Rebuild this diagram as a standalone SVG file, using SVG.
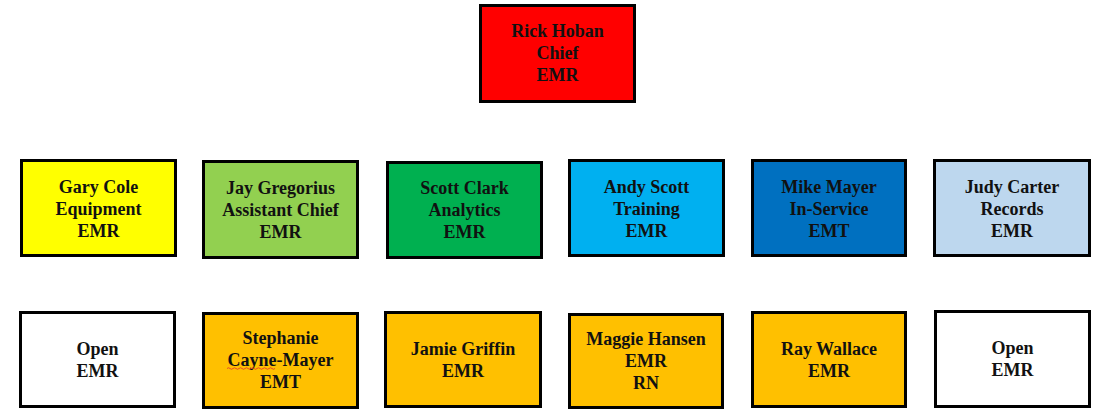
<svg xmlns="http://www.w3.org/2000/svg" width="1096" height="409" viewBox="0 0 1096 409">
<style>
.box{stroke:#000;stroke-width:3}
.t{font-family:"Liberation Serif","Times New Roman",serif;font-weight:bold;font-size:18px;fill:#111;text-anchor:middle}
</style>
<rect width="1096" height="409" fill="#fff"/>
<g id="connectors"></g>
<g id="rick"><rect class="box" x="480.5" y="5.5" width="154" height="96" fill="#FF0000"/><text class="t" x="557.5" y="37">Rick Hoban</text><text class="t" x="557.5" y="59">Chief</text><text class="t" x="557.5" y="81">EMR</text></g>
<g id="gary"><rect class="box" x="21.5" y="160.5" width="154" height="95" fill="#FFFF00"/><text class="t" x="98.5" y="193">Gary Cole</text><text class="t" x="98.5" y="215">Equipment</text><text class="t" x="98.5" y="237">EMR</text></g>
<g id="jay"><rect class="box" x="203.5" y="161.5" width="154" height="96" fill="#92D050"/><text class="t" x="280.5" y="194">Jay Gregorius</text><text class="t" x="280.5" y="216">Assistant Chief</text><text class="t" x="280.5" y="238">EMR</text></g>
<g id="scott"><rect class="box" x="387.5" y="162.5" width="154" height="95" fill="#00B050"/><text class="t" x="464.5" y="194">Scott Clark</text><text class="t" x="464.5" y="216">Analytics</text><text class="t" x="464.5" y="238">EMR</text></g>
<g id="andy"><rect class="box" x="569.5" y="160.5" width="154" height="95" fill="#00B0F0"/><text class="t" x="646.5" y="193">Andy Scott</text><text class="t" x="646.5" y="215">Training</text><text class="t" x="646.5" y="237">EMR</text></g>
<g id="mike"><rect class="box" x="752.5" y="160.5" width="153" height="95" fill="#0070C0"/><text class="t" x="829" y="193">Mike Mayer</text><text class="t" x="829" y="215">In-Service</text><text class="t" x="829" y="237">EMT</text></g>
<g id="judy"><rect class="box" x="934.5" y="160.5" width="155" height="95" fill="#BDD7EE"/><text class="t" x="1012" y="193">Judy Carter</text><text class="t" x="1012" y="215">Records</text><text class="t" x="1012" y="237">EMR</text></g>
<g id="open1"><rect class="box" x="20.5" y="312.5" width="154" height="94" fill="#FFFFFF"/><text class="t" x="97.5" y="355">Open</text><text class="t" x="97.5" y="377">EMR</text></g>
<g id="stephanie"><rect class="box" x="203.5" y="313.5" width="154" height="94" fill="#FFC000"/><text class="t" x="280.5" y="344">Stephanie</text><text class="t" x="280.5" y="366">Cayne-Mayer</text><text class="t" x="280.5" y="388">EMT</text><path d="M227 368.5 q1.5 -1.5 3 0 t3 0 t3 0 t3 0 t3 0 t3 0 t3 0 t3 0 t3 0 t3 0 t3 0 t3 0 t3 0 t3 0 t3 0 t3 0" fill="none" stroke="#E03030" stroke-width="0.8"/></g>
<g id="jamie"><rect class="box" x="385.5" y="312.5" width="155" height="94" fill="#FFC000"/><text class="t" x="463" y="355">Jamie Griffin</text><text class="t" x="463" y="377">EMR</text></g>
<g id="maggie"><rect class="box" x="569.5" y="314.5" width="153" height="93" fill="#FFC000"/><text class="t" x="646" y="345">Maggie Hansen</text><text class="t" x="646" y="367">EMR</text><text class="t" x="646" y="389">RN</text></g>
<g id="ray"><rect class="box" x="752.5" y="312.5" width="153" height="94" fill="#FFC000"/><text class="t" x="829" y="355">Ray Wallace</text><text class="t" x="829" y="377">EMR</text></g>
<g id="open2"><rect class="box" x="935.5" y="311.5" width="154" height="95" fill="#FFFFFF"/><text class="t" x="1012.5" y="354">Open</text><text class="t" x="1012.5" y="376">EMR</text></g>
</svg>
